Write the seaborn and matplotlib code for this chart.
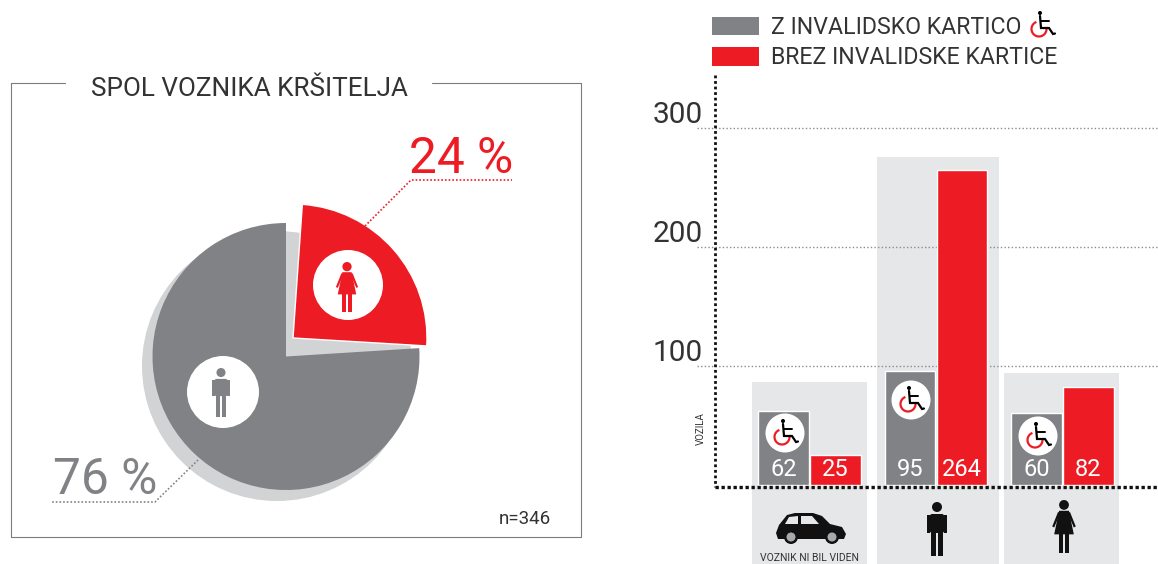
import numpy as np
import pandas as pd
import seaborn as sns
import matplotlib.pyplot as plt
from matplotlib.patches import Circle, Rectangle, Polygon, FancyBboxPatch

# podatki
spol_labels = ['moski', 'zenska']
spol_values = [76, 24]
kategorije = ['Voznik ni bil viden', 'Moski', 'Zenska']
z_kartico = [62, 95, 60]
brez_kartice = [25, 264, 82]
y_ticks = [100, 200, 300]

SIVA = '#808285'
RDECA = '#ed1c24'
SVETLA = '#e6e7e8'
SENCA = '#d1d3d4'
TEMNA = '#333333'
W, H = 1158, 564

sns.set_theme(style='white')
plt.rcParams['font.family'] = ['Roboto', 'DejaVu Sans']

fig = plt.figure(figsize=(W / 100, H / 100), dpi=100)


def full_ax(z, y_down=True):
    a = fig.add_axes([0, 0, 1, 1], zorder=z)
    a.set_xlim(0, W)
    a.set_ylim((H, 0) if y_down else (0, H))
    a.axis('off')
    a.patch.set_alpha(0)
    return a


def moski(a, cx, top, h, barva):
    u = h / 54
    a.add_patch(Circle((cx, top + 5 * u), 5 * u, color=barva, lw=0))
    a.add_patch(FancyBboxPatch((cx - 7 * u, top + 12 * u), 14 * u, 19 * u,
                               boxstyle='round,pad=0,rounding_size=%f' % (2 * u), color=barva, lw=0))
    a.add_patch(Rectangle((cx - 10 * u, top + 13 * u), 3 * u, 18 * u, color=barva, lw=0))
    a.add_patch(Rectangle((cx + 7 * u, top + 13 * u), 3 * u, 18 * u, color=barva, lw=0))
    a.add_patch(Rectangle((cx - 6 * u, top + 30 * u), 5.4 * u, 24 * u, color=barva, lw=0))
    a.add_patch(Rectangle((cx + 0.6 * u, top + 30 * u), 5.4 * u, 24 * u, color=barva, lw=0))


def zenska(a, cx, top, h, barva):
    u = h / 54
    a.add_patch(Circle((cx, top + 5 * u), 5 * u, color=barva, lw=0))
    a.add_patch(Polygon([(cx - 5 * u, top + 11 * u), (cx + 5 * u, top + 11 * u),
                         (cx + 10 * u, top + 35 * u), (cx - 10 * u, top + 35 * u)],
                        color=barva, lw=0))
    a.add_patch(Polygon([(cx - 6 * u, top + 12 * u), (cx - 12 * u, top + 27 * u),
                         (cx - 10 * u, top + 28 * u), (cx - 4 * u, top + 14 * u)], color=barva, lw=0))
    a.add_patch(Polygon([(cx + 6 * u, top + 12 * u), (cx + 12 * u, top + 27 * u),
                         (cx + 10 * u, top + 28 * u), (cx + 4 * u, top + 14 * u)], color=barva, lw=0))
    a.add_patch(Rectangle((cx - 5 * u, top + 35 * u), 4 * u, 19 * u, color=barva, lw=0))
    a.add_patch(Rectangle((cx + 1 * u, top + 35 * u), 4 * u, 19 * u, color=barva, lw=0))


def invalid(a, cx, cy, krog=True):
    if krog:
        a.add_patch(Circle((cx, cy), 19.5, color='white', lw=0))
    t = np.radians(np.linspace(110, 375, 40))
    a.plot(cx - 3 + 7.5 * np.cos(t), cy + 4 - 7.5 * np.sin(t), color=RDECA, lw=1.6, solid_capstyle='butt')
    a.add_patch(Circle((cx - 2, cy - 12), 2, color='black', lw=0))
    a.plot([cx - 2, cx - 1, cx + 7, cx + 11, cx + 13], [cy - 9, cy + 3, cy + 3, cy + 9, cy + 8.5],
           color='black', lw=1.6, solid_joinstyle='miter')
    a.plot([cx - 1.5, cx + 7], [cy - 4, cy - 4], color='black', lw=1.4)


def avto(a):
    a.add_patch(Polygon([(776, 533), (779, 525), (787, 515), (795, 513), (813, 513), (822, 516),
                         (830, 524), (842, 527), (846, 534), (844, 539), (778, 539)],
                        color='#111111', lw=0))
    a.add_patch(Polygon([(785, 524), (789, 517), (798, 516), (798, 524)], color=SVETLA, lw=0))
    a.add_patch(Polygon([(801, 516), (812, 516), (819, 524), (801, 524)], color=SVETLA, lw=0))
    for x in (791, 832):
        a.add_patch(Circle((x, 537), 7, color='#111111', lw=0))
        a.add_patch(Circle((x, 537), 4.5, color='#a7a9ac', lw=0))


# ozadje: okvir in sivi stolpci za skupine
bg = full_ax(0)
for x0, x1, y0 in [(752, 867, 382), (877, 999, 157), (1004, 1119, 373)]:
    bg.add_patch(Rectangle((x0, y0), x1 - x0, H - y0, color=SVETLA, lw=0))
bg.plot([65, 11, 11, 581, 581, 432], [83, 83, 537, 537, 83, 83], color='#7a7c7f', lw=0.8)

# torta
pie_ax = full_ax(1, y_down=False)
pie_ax.add_patch(Circle((277, H - 366), 135, color=SENCA, lw=0))
wedges, _ = pie_ax.pie(spol_values, colors=[SIVA, RDECA], startangle=90, center=(286, H - 356.5), radius=133.5,
                       frame=True, wedgeprops={'lw': 0})
rdeca = wedges[1]
rdeca.set_center((293, H - 338))
rdeca.set_radius(134)
rdeca.set_theta1(rdeca.theta1 - 7)
rdeca.set_theta2(rdeca.theta2 - 4)
rdeca.set_edgecolor('white')
rdeca.set_linewidth(1)
pie_ax.set_xlim(0, W)
pie_ax.set_ylim(0, H)
pie_ax.axis('off')

# stolpci
df = pd.DataFrame({
    'kategorija': kategorije * 2,
    'vozila': z_kartico + brez_kartice,
    'kartica': ['z'] * 3 + ['brez'] * 3,
})
ax = fig.add_axes([0, 0, 1, 1], zorder=2)
ax.patch.set_alpha(0)
sns.barplot(data=df, x='kategorija', y='vozila', hue='kartica', palette={'z': SIVA, 'brez': RDECA},
            width=0.82, gap=0.02, saturation=1, legend=False, ax=ax, zorder=3)
x_enota = 126.5
y_enota = 1.19
ax.set_xlim(-809.5 / x_enota, (W - 809.5) / x_enota)
ax.set_ylim(-(H - 484.5) / y_enota, 484.5 / y_enota)
sns.despine(ax=ax, left=True, bottom=True, top=True, right=True)
ax.set_xticks([])
ax.set_yticks([])
ax.set_xlabel('')
ax.set_ylabel('')
for t in y_ticks:
    ax.plot([697 / x_enota - 809.5 / x_enota, (W - 809.5) / x_enota], [t, t], color='#8a8c8e', lw=1,
            ls=(0, (1, 1.6)), zorder=2)
    ax.annotate(str(t), (703 / x_enota - 809.5 / x_enota, t), xytext=(0, 3), textcoords='offset points',
                ha='right', va='baseline', fontsize=21.5, color=TEMNA)
for i in range(3):
    for odmik, v in ((-0.205, z_kartico[i]), (0.205, brez_kartice[i])):
        ax.text(i + odmik, 3, str(v), ha='center', va='bottom', color='white', fontsize=17, zorder=5)

# osi, oznake, ikone
top = full_ax(3)
top.plot([715, 715], [75, 487], color='#111111', lw=2, ls=(0, (1, 1)))
top.plot([715, W], [487, 487], color='#111111', lw=2.4, ls=(0, (1, 0.8)))
top.text(701, 429, 'VOZILA', rotation=90, ha='center', va='center', fontsize=7, color=TEMNA)

top.text(249, 88.5, 'SPOL VOZNIKA KRŠITELJA', ha='center', va='center', fontsize=18.8, color=TEMNA)
top.text(461, 159, '24 %', ha='center', va='center', fontsize=35.7, color=RDECA)
top.text(105, 479.5, '76 %', ha='center', va='center', fontsize=35.7, color=SIVA)
top.text(551, 519, 'n=346', ha='right', va='center', fontsize=13.5, color=TEMNA)
top.plot([365, 411, 512], [226, 180, 180], color=RDECA, lw=1.2, ls=(0, (1, 1.2)))
top.plot([198, 155, 52], [460, 502, 502], color=SIVA, lw=1.2, ls=(0, (1, 1.2)))

top.add_patch(Circle((223, 392), 36, color='white', lw=0))
moski(top, 221, 368, 49, SIVA)
top.add_patch(Circle((348, 285), 35, color='white', lw=0))
zenska(top, 347, 262, 50, RDECA)

top.add_patch(Rectangle((712, 17), 47, 18, color=SIVA, lw=0))
top.add_patch(Rectangle((712, 47), 47, 19, color=RDECA, lw=0))
top.text(771, 28, 'Z INVALIDSKO KARTICO', ha='left', va='center', fontsize=16.7, color=TEMNA)
top.text(771, 58, 'BREZ INVALIDSKE KARTICE', ha='left', va='center', fontsize=16.7, color=TEMNA)
invalid(top, 1042, 25, krog=False)
invalid(top, 785, 433)
invalid(top, 911, 400)
invalid(top, 1038, 436)

avto(top)
top.text(809, 558, 'VOZNIK NI BIL VIDEN', ha='center', va='center', fontsize=7.5, color=TEMNA)
moski(top, 937, 502, 54, '#111111')
zenska(top, 1064, 500, 53, '#111111')

fig.savefig('out.png', dpi=100)
